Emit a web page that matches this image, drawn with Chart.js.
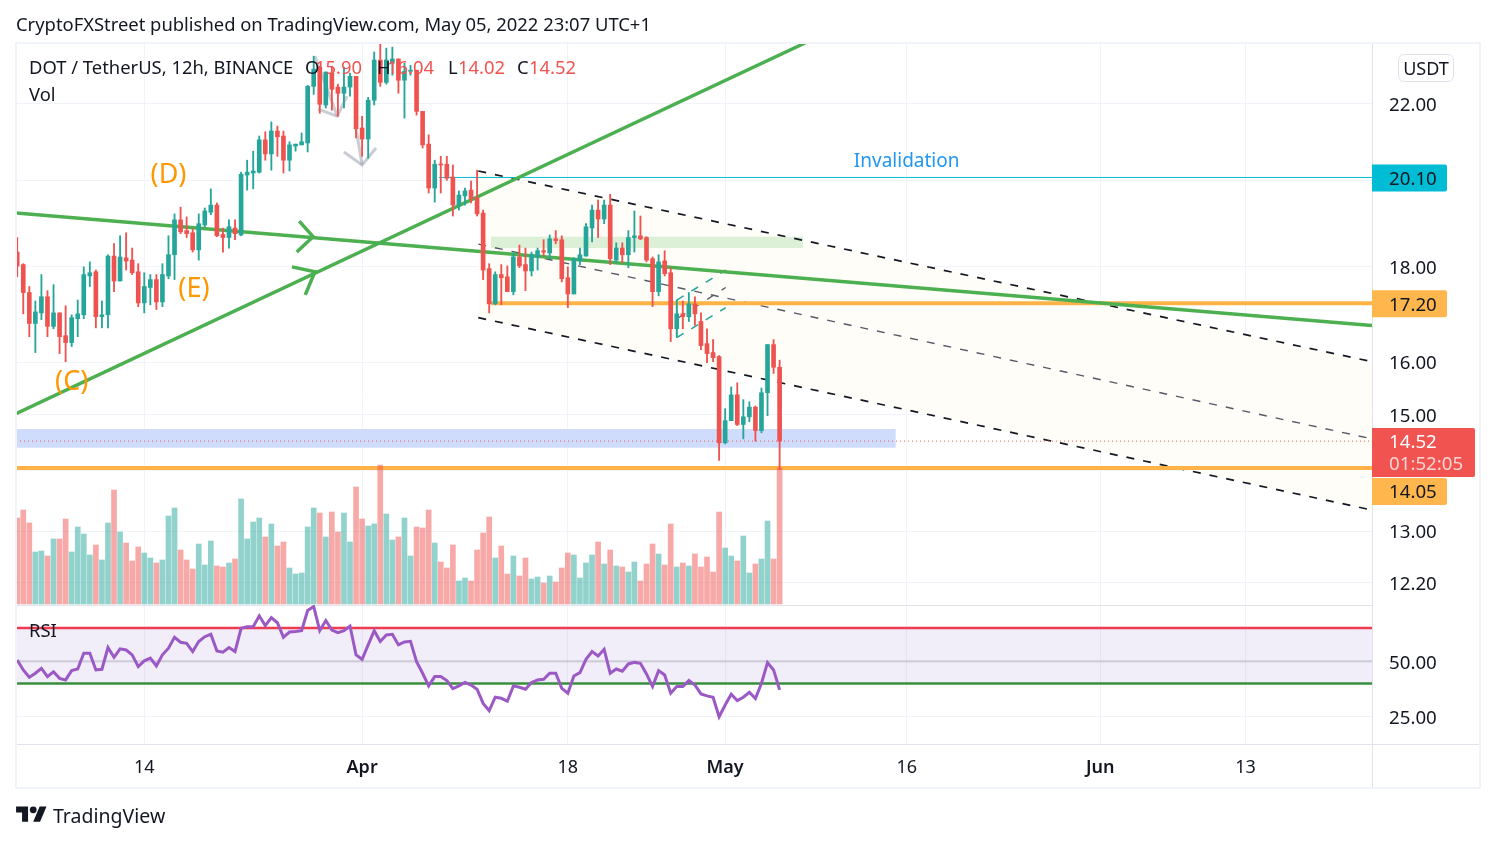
<!DOCTYPE html>
<html><head><meta charset="utf-8">
<style>
html,body{margin:0;padding:0;background:#fff;width:1496px;height:844px;overflow:hidden}
#wrap{position:absolute;left:0;top:0;width:1496px;height:844px;font-family:"Noto Sans",sans-serif;color:#131722}
canvas{position:absolute;left:0;top:0}
#frame{position:absolute;left:15px;top:42px;width:1462px;height:743px;border:2px solid #f0f3fa;pointer-events:none}
.t{position:absolute;white-space:nowrap;font-size:18.4px;line-height:24px;height:24px}
.r{color:#f05350}
#usdt{position:absolute;left:1398px;top:54px;width:54px;height:26px;border:1px solid #e0e3eb;border-radius:6px;background:#fff;text-align:center;font-size:18px;line-height:26px}
#logo{position:absolute;left:16px;top:803px}
</style></head><body>
<div id="wrap">
<canvas id="c" width="1496" height="844"></canvas>
<div id="frame"></div>
<div class="t" style="left:16px;top:12px">CryptoFXStreet published on TradingView.com, May 05, 2022 23:07 UTC+1</div>
<div class="t" style="left:29px;top:55px">DOT / TetherUS, 12h, BINANCE</div>
<div class="t" style="left:305px;top:55px">O</div><div class="t r" style="left:315px;top:55px">15.90</div>
<div class="t" style="left:377px;top:55px">H</div><div class="t r" style="left:387px;top:55px">16.04</div>
<div class="t" style="left:448px;top:55px">L</div><div class="t r" style="left:458px;top:55px">14.02</div>
<div class="t" style="left:517px;top:55px">C</div><div class="t r" style="left:529px;top:55px">14.52</div>
<div class="t" style="left:29px;top:82px">Vol</div>
<div class="t" style="left:29px;top:618px">RSI</div>
<div id="usdt">USDT</div>
<svg id="logo" width="31" height="24" viewBox="0 0 36 28" fill="#131722"><path d="M14 22H7V11H0V4h14v18zM28 22h-8l7.5-18h8L28 22z"/><circle cx="20" cy="8" r="4"/></svg>
<div class="t" style="left:53px;top:802px;font-size:19.5px;line-height:27px;height:27px">TradingView</div>
</div>
<script src="https://cdn.jsdelivr.net/npm/chart.js@4/dist/chart.umd.min.js"></script>
<script>
// ---- candles, one per 12h, index 0 = first candle on the chart ----
const opens=[18.32,18.04,17.43,16.78,17.00,17.34,16.72,17.00,16.53,16.39,
16.88,16.96,17.79,17.88,16.92,16.96,18.23,17.68,18.19,18.14,
17.88,17.21,17.54,17.71,17.23,17.79,18.26,19.06,18.81,18.76,
18.37,18.94,19.24,19.41,18.72,18.65,18.87,18.71,20.14,20.19,
20.21,21.03,20.67,21.26,21.13,20.51,20.87,20.90,20.95,22.46,
23.00,21.95,22.83,22.44,22.27,22.44,22.74,21.34,21.05,22.08,
23.20,22.57,23.11,23.23,22.63,22.88,22.91,21.78,20.92,19.82,
20.41,20.41,20.09,19.41,19.63,19.77,19.58,19.22,17.95,17.19,
17.82,17.77,17.45,18.21,18.04,17.90,18.21,18.35,18.30,18.62,
18.60,17.75,17.40,18.12,18.23,18.87,19.29,19.08,19.41,18.14,
18.41,18.26,18.65,18.69,18.65,18.17,17.45,18.12,17.86,16.67,
16.98,16.92,17.19,16.82,16.37,16.19,16.11,14.49,14.89,15.37,
14.82,14.96,15.14,14.71,15.41,16.35,15.90];
const highs=[18.65,18.06,17.56,17.25,17.82,17.47,17.60,17.00,17.15,16.96,
17.27,17.99,18.10,17.92,17.25,18.26,18.51,18.69,18.76,18.41,
18.06,17.86,17.82,17.82,18.06,18.69,19.20,19.36,19.13,18.85,
19.20,19.34,19.80,19.46,18.87,19.06,19.06,20.21,20.51,20.74,
21.13,21.24,21.50,21.39,21.26,20.98,20.92,21.21,22.49,23.31,
23.02,22.86,23.02,22.52,23.00,22.83,22.74,21.65,22.16,23.43,
23.69,23.54,23.57,23.23,23.11,23.05,22.91,21.78,21.16,20.51,
20.61,20.61,20.39,19.75,19.82,19.99,20.26,19.29,18.06,17.88,
18.04,18.01,18.30,18.48,18.41,18.32,18.41,18.60,18.71,18.81,
18.69,17.99,18.19,18.41,18.97,19.41,19.53,19.53,19.67,18.53,
18.53,18.81,19.27,19.15,18.67,18.21,18.26,18.35,17.97,17.27,
17.25,17.43,17.34,17.00,16.67,16.45,16.13,15.11,15.52,15.60,
15.28,15.24,15.16,15.50,16.35,16.45,16.04];
const lows=[17.77,16.98,16.51,16.19,16.86,16.51,16.67,16.17,16.01,16.31,
16.51,16.88,17.56,16.69,16.69,16.69,17.45,17.68,17.92,17.82,
17.13,17.00,17.17,17.07,17.13,17.73,17.71,18.74,18.65,18.32,
18.14,18.90,19.18,18.67,18.32,18.41,18.60,18.69,19.77,19.80,
20.19,20.51,20.26,20.61,20.19,20.24,20.74,20.90,20.72,22.24,
21.73,21.87,21.81,21.65,21.87,22.19,21.08,20.61,20.56,21.95,
22.46,22.52,22.77,22.27,21.60,22.77,21.68,20.82,19.70,19.48,
19.70,20.01,19.15,19.29,19.41,19.46,19.15,17.71,17.00,17.17,
17.17,17.45,17.38,17.97,17.47,17.79,17.92,18.23,18.17,18.51,
17.66,17.11,17.40,18.04,18.23,18.55,18.65,18.97,18.04,18.08,
18.08,17.97,18.32,18.60,18.10,17.13,17.36,17.79,16.41,16.53,
16.67,16.82,16.74,16.25,15.99,16.01,14.18,14.47,14.89,14.80,
14.56,14.87,14.52,14.67,14.98,15.78,14.02];
const closes=[18.01,17.43,16.78,17.02,17.34,16.72,17.00,16.51,16.39,16.90,
16.98,17.82,17.86,16.92,16.96,18.23,17.68,18.21,18.12,17.86,
17.21,17.56,17.71,17.23,17.82,18.26,19.06,18.78,18.74,18.37,
18.97,19.27,19.41,18.69,18.65,18.90,18.74,20.16,20.21,20.24,
21.03,20.67,21.26,21.11,20.51,20.90,20.92,20.98,22.46,22.94,
21.97,22.86,22.38,22.27,22.44,22.74,21.32,21.05,22.08,23.20,
22.57,23.20,23.23,22.63,22.88,22.91,21.78,20.90,19.82,20.41,
20.39,20.06,19.41,19.65,19.75,19.56,19.20,17.92,17.19,17.82,
17.75,17.45,18.21,18.01,17.90,18.26,18.35,18.32,18.62,18.58,
17.73,17.40,18.17,18.26,18.90,19.29,19.08,19.41,18.17,18.41,
18.26,18.65,18.69,18.62,18.14,17.45,18.10,17.84,16.67,16.98,
16.92,17.19,16.98,16.33,16.17,16.09,14.49,14.89,15.37,14.82,
14.96,15.14,14.71,15.41,16.35,15.90,14.52];
const volumes=[86,94,81,52,53,48,65,65,85,52,
77,70,49,59,44,81,114,72,61,43,
57,51,46,41,44,88,96,54,44,35,
60,39,63,38,37,41,45,105,65,82,
86,67,80,58,62,36,30,31,77,96,
91,67,92,72,91,62,117,85,78,80,
139,90,64,67,86,48,77,76,94,61,
42,36,59,23,26,23,54,71,87,46,
58,30,48,28,46,25,27,21,28,22,
36,51,49,26,41,49,62,40,54,38,
37,32,42,23,40,60,50,39,80,37,
41,38,50,37,47,32,92,56,48,43,
68,31,40,45,83,45,136];
const rsiValues=[50.6,46.1,42.8,44.6,46.8,43.1,45.3,42.3,41.6,45.8,
46.5,53.6,53.6,46.1,46.4,56.2,51.8,55.6,55.1,52.9,
47.6,50.2,51.4,47.9,52.9,55.9,60.8,58.6,58.1,54.4,
58.9,61.1,62.2,54.7,54.1,56.2,54.4,64.9,65.6,65.6,
70.5,66.1,69.7,67.4,60.8,63.2,63.4,63.8,72.9,74.7,
63.8,68.4,64.1,62.9,63.8,65.9,52.9,50.9,57.4,63.8,
58.9,61.9,62.2,57.4,58.7,59.0,49.8,44.6,38.9,43.1,
43.1,41.3,37.7,38.9,40.5,39.3,37.4,31.0,27.7,33.8,
33.3,32.0,38.9,38.3,37.4,40.4,41.6,41.9,44.6,44.6,
37.8,35.6,43.4,44.9,50.9,54.4,52.4,55.4,44.6,46.5,
45.5,48.8,49.5,49.1,44.3,38.6,45.8,43.8,35.6,38.6,
38.6,41.3,39.3,35.3,34.4,33.8,25.0,30.3,35.1,32.3,
33.8,36.0,33.2,40.1,49.4,46.1,37.1];

// ---- axes ----
const xMin=-0.2, xMax=223.9;
const xTickIndex=[21,57,91,117,147,179,203];
const xTickLabels=["14","Apr","18","May","16","Jun","13"];
const xTickBold=["Apr","May","Jun"];
const priceMin=11.87, priceMax=23.69;
const priceTicks=[12.2,13,14,15,16,18,20,22];
const priceTicksHidden=[14,20];
const rsiMin=12.68, rsiMax=75.4;
const rsiTicks=[25,50];
const volMin=-140, volMax=561;

// ---- drawings, in candle index / price ----
const trendDown=[{x:-0.2,y:19.22},{x:223.9,y:16.74}];
const trendUp=[{x:-0.2,y:15.02},{x:130.2,y:23.69}];
const arrowDown=[{x:46.6,y:19.03},{x:48.9,y:18.67},{x:46.2,y:18.32}];
const arrowUp=[{x:45.4,y:17.99},{x:49.2,y:17.88},{x:47.6,y:17.38}];
const greyArrow1=[{x:49.2,y:23.31},{x:52.9,y:21.65}];
const greyHead1=[{x:49.7,y:21.84},{x:52.9,y:21.65},{x:54.5,y:22.19}];
const greyArrow2=[{x:56,y:21.32},{x:57,y:20.39}];
const greyHead2=[{x:54,y:20.72},{x:57,y:20.39},{x:59.3,y:20.82}];
const channelTop=[{x:76.2,y:20.24},{x:223.9,y:16.01}];
const channelMid=[{x:76.2,y:18.50},{x:223.9,y:14.56}];
const channelBot=[{x:76.2,y:16.90},{x:223.9,y:13.34}];
const flagTop=[{x:109,y:17.27},{x:117.1,y:17.92}];
const flagMid=[{x:109.3,y:16.90},{x:117.1,y:17.54}];
const flagBot=[{x:109,y:16.49},{x:117.1,y:17.11}];
const flagSide=[{x:109,y:17.27},{x:109,y:16.49}];
const greenZone={x0:78.3,x1:129.9,top:18.67,bottom:18.41};
const blueZone={x0:-0.2,x1:145.2,top:14.74,bottom:14.40};
const support1=[{x:78.3,y:17.2},{x:223.9,y:17.2}];
const support2=[{x:-0.2,y:14.05},{x:223.9,y:14.05}];
const invalidationLine=[{x:69.7,y:20.08},{x:223.9,y:20.08}];
const lastPriceLine=[{x:-0.2,y:14.52},{x:223.9,y:14.52}];
const rsiUpper=65, rsiMiddle=50, rsiLower=40;
const waveLabels=[{text:"(D)",x:25,y:20.13},{text:"(E)",x:29.2,y:17.51},{text:"(C)",x:9,y:15.6}];
const invalidationText={text:"Invalidation",x:147,y:20.47};

const GREEN='#26a69a',RED='#ef5350',FONT='"Noto Sans", sans-serif';
const idx=opens.map((_,i)=>i);
const up=i=>closes[i]>=opens[i];
const span=(a,b)=>[{x:a,y:0},{x:b,y:0}];
function line(data,color,width,order,extra){return Object.assign({type:'line',data,borderColor:color,borderWidth:width,pointRadius:0,tension:0,fill:false,order,yAxisID:'y',xAxisID:'x'},extra||{});}
function zone(z,color,order){return [
 line([{x:z.x0,y:z.top},{x:z.x1,y:z.top}],'transparent',0,order,{fill:'+1',backgroundColor:color}),
 line([{x:z.x0,y:z.bottom},{x:z.x1,y:z.bottom}],'transparent',0,order)];}

const datasets=[
 {type:'bar',label:'body',data:idx.map(i=>({x:i,y:[opens[i],closes[i]]})),barThickness:4,minBarLength:1,grouped:false,order:0,yAxisID:'y',xAxisID:'x',
  backgroundColor:c=>up(c.dataIndex)?GREEN:RED},
 {type:'bar',label:'wick',data:idx.map(i=>({x:i,y:[lows[i],highs[i]]})),barThickness:1.2,grouped:false,order:1,yAxisID:'y',xAxisID:'x',
  backgroundColor:c=>up(c.dataIndex)?GREEN:RED},
 {type:'bar',label:'volume',data:idx.map(i=>({x:i,y:volumes[i]})),barThickness:5,grouped:false,order:2,yAxisID:'vol',xAxisID:'x',
  backgroundColor:c=>up(c.dataIndex)?'rgba(38,166,154,.5)':'rgba(239,83,80,.5)'},
 line(idx.map(i=>({x:i,y:rsiValues[i]})),'#9b59c5',3,2,{yAxisID:'rsi'}),
 line(span(xMin,xMax).map(p=>({x:p.x,y:rsiUpper})),'#ee3b50',2.6,3,{yAxisID:'rsi'}),
 line(span(xMin,xMax).map(p=>({x:p.x,y:rsiLower})),'#388e3c',2.6,3,{yAxisID:'rsi'}),
 line(span(xMin,xMax).map(p=>({x:p.x,y:rsiMiddle})),'rgba(120,123,134,.22)',2.4,3,{yAxisID:'rsi'}),
 line(span(xMin,xMax).map(p=>({x:p.x,y:rsiUpper})),'transparent',0,4,{yAxisID:'rsi',fill:'+1',backgroundColor:'rgba(126,87,194,.1)'}),
 line(span(xMin,xMax).map(p=>({x:p.x,y:rsiLower})),'transparent',0,4,{yAxisID:'rsi'}),
 line(lastPriceLine,'#ef5350',1,3,{borderDash:[1,3]}),
 line(trendDown,'#4caf50',3.5,3),
 line(trendUp,'#4caf50',3.5,3),
 line(arrowDown,'#4caf50',3.5,3),
 line(arrowUp,'#4caf50',3.5,3),
 line(support1,'#ffb347',4,3.5),
 line(support2,'#ffb347',4,3.5),
 line(invalidationLine,'#00bcd4',1,3.5),
 line(greyArrow1,'rgba(150,155,170,.5)',3,3.5),
 line(greyHead1,'rgba(150,155,170,.5)',3,3.5),
 line(greyArrow2,'rgba(150,155,170,.5)',3,3.5),
 line(greyHead2,'rgba(150,155,170,.5)',3,3.5),
 line(channelTop,'#131722',1.7,3.6,{borderDash:[8,9]}),
 line(channelMid,'#555a66',1.4,3.6,{borderDash:[8,9]}),
 line(channelBot,'#131722',1.7,3.6,{borderDash:[8,9]}),
 line(flagTop,'#26a69a',1.5,3.6,{borderDash:[8,9]}),
 line(flagBot,'#26a69a',1.5,3.6,{borderDash:[8,9]}),
 line(flagMid,'#555a66',1.3,3.6,{borderDash:[8,9]}),
 line(flagSide,'#26a69a',1.5,3.6),
 ...zone(greenZone,'#dcefd7',4),
 ...zone(blueZone,'#cfdcfb',4),
 line(channelTop,'transparent',0,5,{fill:'+1',backgroundColor:'#fffdf7'}),
 line(channelBot,'transparent',0,5)
];

const chrome={id:'chrome',
 beforeDatasetsDraw(ch){const c=ch.ctx,a=ch.chartArea,yr=ch.scales.rsi;
  c.save();c.strokeStyle='#e0e3eb';c.lineWidth=1;c.beginPath();
  c.moveTo(a.right+.5,a.top);c.lineTo(a.right+.5,788);
  c.moveTo(a.left,yr.top+.5);c.lineTo(a.right,yr.top+.5);
  c.moveTo(a.left,a.bottom+.5);c.lineTo(1480,a.bottom+.5);
  c.stroke();c.restore();},
 afterDraw(ch){const c=ch.ctx,a=ch.chartArea,x=ch.scales.x,y=ch.scales.y;
  c.save();c.textBaseline='middle';
  c.textAlign='center';c.fillStyle='#ff9800';c.font='27px '+FONT;
  waveLabels.forEach(l=>c.fillText(l.text,x.getPixelForValue(l.x),y.getPixelForValue(l.y)));
  c.fillStyle='#2196f3';c.font='19px '+FONT;
  c.fillText(invalidationText.text,x.getPixelForValue(invalidationText.x),y.getPixelForValue(invalidationText.y));
  const tag=(v,bg,dy,w,h)=>{const py=y.getPixelForValue(v)+dy;c.fillStyle=bg;c.beginPath();c.roundRect(a.right,py-h/2,w,h,[0,2,2,0]);c.fill();return py;};
  c.textAlign='left';c.font='18.7px '+FONT;
  [[20.10,20.08,'#00bcd4',0.5],[17.20,17.20,'#ffb74d',0.5],[14.05,14.05,'#ffb74d',23.5]].forEach(([label,v,bg,dy])=>{
    const py=tag(v,bg,dy,75,27);c.fillStyle='#131722';c.fillText(label.toFixed(2),a.right+17,py+1.5);});
  const py=tag(14.52,'#f05350',11.5,103,49);
  c.fillStyle='#fff';c.fillText('14.52',a.right+17,py-9.5);
  c.fillStyle='rgba(255,255,255,.75)';c.fillText('01:52:05',a.right+17,py+12.5);
  c.restore();}
};

new Chart(document.getElementById('c'),{
 type:'line',
 data:{datasets},
 plugins:[chrome],
 options:{responsive:false,animation:false,devicePixelRatio:1,
  layout:{padding:{left:16,right:16,top:43,bottom:56}},
  plugins:{legend:{display:false},tooltip:{enabled:false}},
  events:[],
  scales:{
   x:{type:'linear',min:xMin,max:xMax,offset:false,
      grid:{color:'#f0f3fa',drawTicks:false,offset:false},border:{display:false},
      afterBuildTicks(s){s.ticks=xTickIndex.map(v=>({value:v}));},
      afterFit(s){s.height=44;},
      ticks:{autoSkip:false,maxRotation:0,padding:13,color:'#131722',
        font:c=>{const l=xTickLabels[xTickIndex.indexOf(c.tick&&c.tick.value)];return {family:FONT,size:18,weight:xTickBold.includes(l)?'600':'400'};},
        callback:v=>xTickLabels[xTickIndex.indexOf(v)]}},
   y:{type:'logarithmic',position:'right',min:priceMin,max:priceMax,bounds:'data',stack:'panes',stackWeight:562,weight:0,
      grid:{color:'#f0f3fa',drawTicks:false},border:{display:false},
      afterBuildTicks(s){s.ticks=priceTicks.map(v=>({value:v}));},
      afterFit(s){s.width=108;},
      ticks:{autoSkip:false,padding:17,labelOffset:2,color:'#131722',font:{family:FONT,size:18.7},
        callback:v=>priceTicksHidden.includes(v)?'':v.toFixed(2)}},
   rsi:{type:'linear',position:'right',min:rsiMin,max:rsiMax,bounds:'data',stack:'panes',stackWeight:139,weight:1,
      grid:{color:'#f0f3fa',drawTicks:false},border:{display:false},
      afterBuildTicks(s){s.ticks=rsiTicks.map(v=>({value:v}));},
      afterFit(s){s.width=108;},
      ticks:{autoSkip:false,padding:17,labelOffset:2,color:'#131722',font:{family:FONT,size:18.7},callback:v=>v.toFixed(2)}},
   vol:{type:'linear',position:'right',display:false,min:volMin,max:volMax}
  }
 }
});
</script>
</body></html>
